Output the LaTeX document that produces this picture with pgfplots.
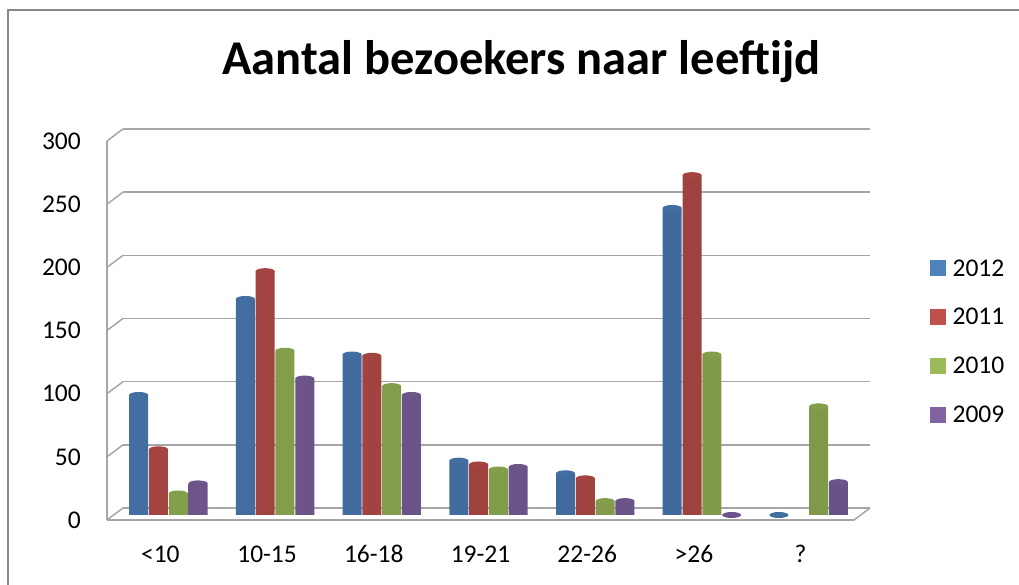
\documentclass[border=0pt]{standalone}
\usepackage{fontspec}
\setmainfont{Carlito}
\usepackage{pgfplots}
\pgfplotsset{compat=1.18}
\usetikzlibrary{shapes.geometric}
\definecolor{cA}{HTML}{4F81BD}
\definecolor{cB}{HTML}{C0504D}
\definecolor{cC}{HTML}{9BBB59}
\definecolor{cD}{HTML}{8064A2}
\definecolor{gridc}{HTML}{A6A6A6}
\definecolor{framec}{HTML}{868686}
\pgfplotsset{
  cyl/.style 2 args={forget plot, draw=none, bar shift=#2,
    left color=#1!85!black, middle color=#1!88!white, right color=#1!82!black,
    nodes near coords={},
    every node near coord/.append style={anchor=center, ellipse, inner sep=0pt,
      minimum width=19pt, minimum height=6pt, fill=#1!85!black, draw=none}},
}
\begin{document}
\begin{tikzpicture}[x=1pt,y=1pt]
\useasboundingbox (0,0) rectangle (1019,585);
\draw[framec, line width=2pt] (8,-2) -- (8,575) -- (1021,575);
\node[anchor=base, inner sep=0pt, font=\fontsize{48.5}{52}\selectfont\bfseries] at (521.5,510) {Aantal bezoekers naar leeftijd};

\begin{axis}[at={(107pt,65pt)}, anchor=south west, scale only axis,
  width=747pt, height=379pt, xmin=0, xmax=7, ymin=0, ymax=300,
  ytick={0,50,...,300}, xtick={0.5,1.5,...,6.5},
  xticklabels={<10,10-15,16-18,19-21,22-26,>26,?},
  axis x line*=bottom, axis y line*=left,
  axis line style={gridc, line width=1.5pt, -},
  major tick length=0pt,
  tick label style={font=\fontsize{25.5}{30}\selectfont, inner sep=0pt},
  /pgf/number format/assume math mode=true,
  xticklabel style={anchor=center, yshift=-34pt},
  yticklabel style={anchor=east, xshift=-26pt},
  ymajorgrids,
  major grid style={gridc, line width=1.5pt, xshift=16pt, yshift=12pt},
  clip=false]
\addplot[draw=none] coordinates {(0,0)};
\pgfplotsinvokeforeach{0,50,100,150,200,250,300}{\draw[gridc,line width=1.5pt] (axis cs:0,#1) -- ++(16pt,12pt);}
\draw[gridc,line width=1.5pt] (axis cs:7,0) -- ++(16pt,12pt);
\end{axis}

\begin{axis}[at={(115pt,70pt)}, anchor=south west, scale only axis,
  width=747pt, height=379pt, xmin=0, xmax=7, ymin=0, ymax=300,
  hide axis, clip=false, ybar=0.8pt, bar width=19pt,
  legend style={at={(1.091,0.673)}, anchor=north west, draw=none, fill=none,
    inner sep=0pt, font=\fontsize{25.5}{30}\selectfont, row sep=32.7pt,
    column sep=7pt,
    nodes={inner sep=0pt, anchor=base west, text height=16pt, text depth=0pt}},
  legend cell align=left]
\addlegendimage{legend image code/.code={\fill[cA] (0pt,0.5pt) rectangle (15pt,15.5pt);}}
\addlegendimage{legend image code/.code={\fill[cB] (0pt,0.5pt) rectangle (15pt,15.5pt);}}
\addlegendimage{legend image code/.code={\fill[cC] (0pt,0.5pt) rectangle (15pt,15.5pt);}}
\addlegendimage{legend image code/.code={\fill[cD] (0pt,0.5pt) rectangle (15pt,15.5pt);}}
\addplot[cyl={cA}{-29.7pt}] coordinates {(0.5,95) (1.5,171) (2.5,127) (3.5,43) (4.5,33) (5.5,243) (6.5,0)};
\addplot[cyl={cB}{-9.9pt}] coordinates {(0.5,52) (1.5,193) (2.5,126) (3.5,40) (4.5,29) (5.5,269)};
\addplot[cyl={cC}{9.9pt}] coordinates {(0.5,17) (1.5,130) (2.5,102) (3.5,36) (4.5,11) (5.5,127) (6.5,86)};
\addplot[cyl={cD}{29.7pt}] coordinates {(0.5,25) (1.5,108) (2.5,95) (3.5,38) (4.5,11) (5.5,0) (6.5,26)};
\legend{2012,2011,2010,2009}
\end{axis}
\end{tikzpicture}
\end{document}
